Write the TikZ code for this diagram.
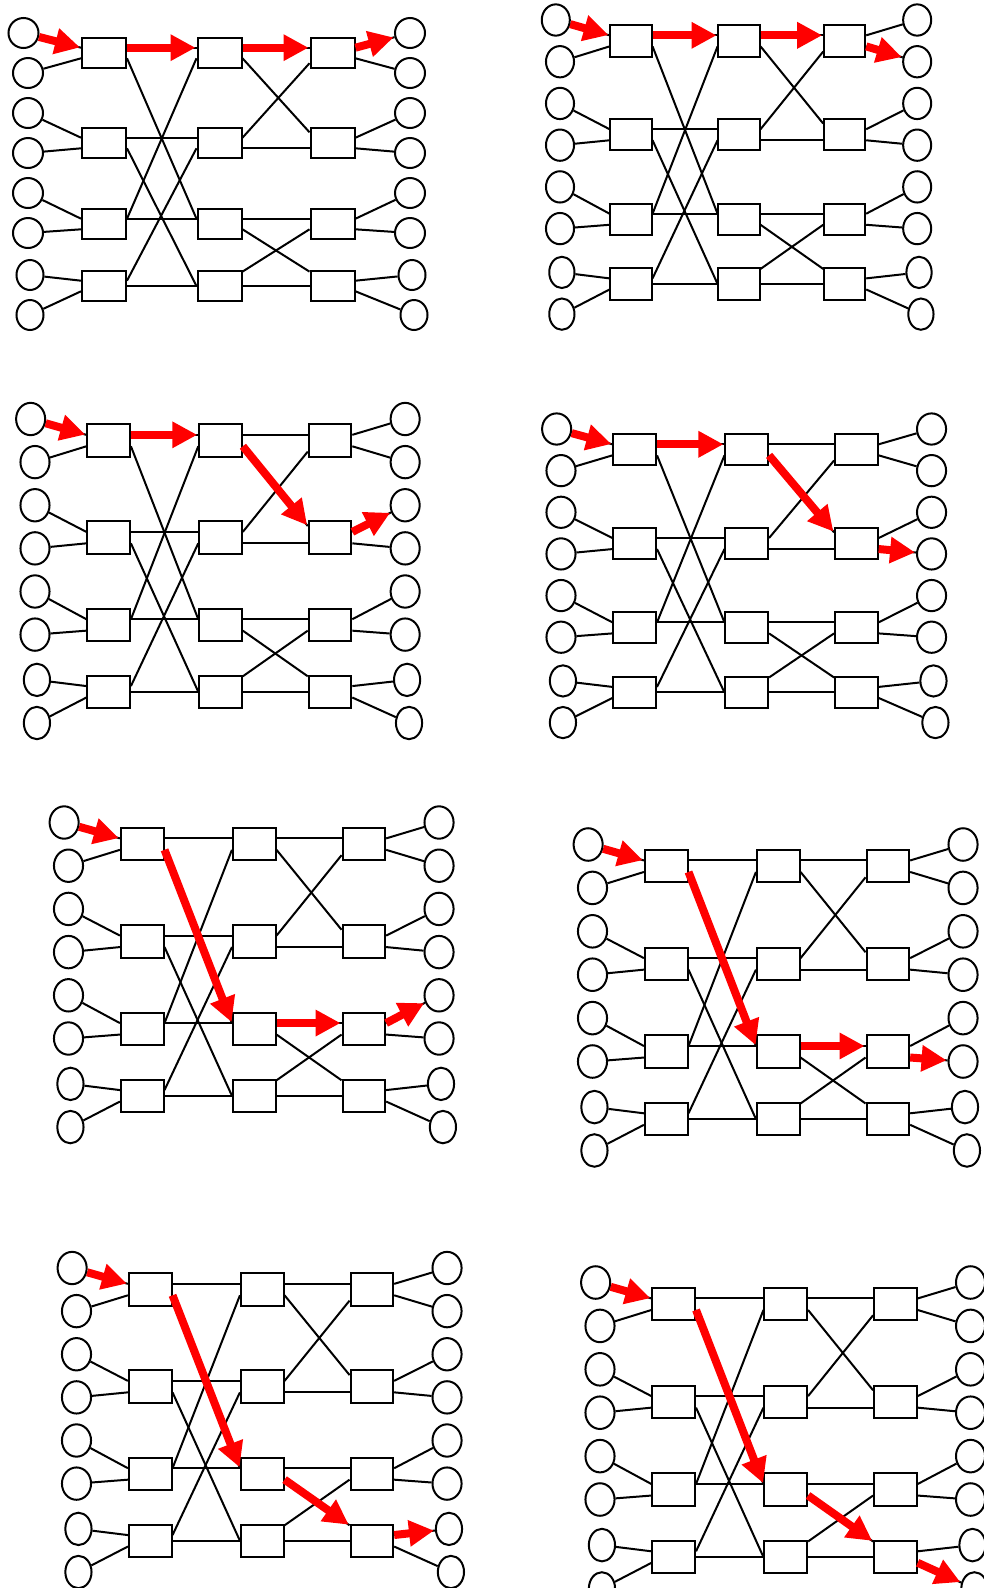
\documentclass[tikz,border=0pt]{standalone}
\usepackage{tikz}
\usetikzlibrary{shapes.geometric}
\usetikzlibrary{arrows.meta}

\tikzset{
    host/.style={draw, ellipse, line width=2pt, minimum width=30pt, minimum height=30pt, inner sep=0pt, transform shape},
    switchbox/.style={draw, rectangle, line width=2pt, minimum width=44pt, minimum height=30pt, inner sep=0pt, transform shape},
    link/.style={line width=2pt},
    route/.style={red, line width=8pt, -{Triangle[length=25pt,width=25pt]}, shorten >=1pt}
}

\begin{document}
\begin{tikzpicture}[x=1pt, y=-1pt]
    \useasboundingbox (0,0) rectangle (983,1588);

    % Eight copies of the network
    \foreach \n/\px/\py/\sx/\sy in {1/28/33/1.0/1.0, 2/560/20/0.935/1.043, 3/35/419/0.969/1.078, 4/561/429/0.970/1.041,
                                    5/68.5/822.5/0.970/1.08, 6/592.5/844.5/0.970/1.085, 7/76.5/1268/0.970/1.078, 8/600/1282.5/0.970/1.085} {
    \begin{scope}[shift={(\px,\py)}, xscale=\sx, yscale=\sy]
        % Hosts
        \foreach \k/\y/\dx/\ox/\w in {1/0/-4.5/0/30, 2/40/0/0/30, 3/80/0/0/30, 4/120/0/0/30,
                                      5/160/0/0/30, 6/200/0/0/30, 7/242/2/2/27, 8/282/2/4/27} {
            \node[host, minimum width=\w pt] (p\n-i\k) at (\dx,\y) {};
            \node[host, minimum width=\w pt] (p\n-o\k) at (382+\ox,\y) {};
        }
        % Switches
        \foreach \k/\y in {1/20, 2/110, 3/191, 4/253} {
            \node[switchbox] (p\n-s\k) at (76,\y) {};
            \node[switchbox] (p\n-m\k) at (191.5,\y) {};
            \node[switchbox] (p\n-t\k) at (304.5,\y) {};
        }
        % Hosts to switches
        \foreach \k/\a/\b in {1/1/2, 2/3/4, 3/5/6, 4/7/8} {
            \draw[link] (p\n-i\a) -- (p\n-s\k.167);
            \draw[link] (p\n-i\b) -- (p\n-s\k.193);
            \draw[link] (p\n-t\k.13) -- (p\n-o\a);
            \draw[link] (p\n-t\k.347) -- (p\n-o\b);
        }
        % First to second stage
        \draw[link] (p\n-s1.13) -- (p\n-m1.167);
        \draw[link] (p\n-s1.347) -- (p\n-m3.167);
        \draw[link] (p\n-s2.13) -- (p\n-m2.167);
        \draw[link] (p\n-s2.347) -- (p\n-m4.180);
        \draw[link] (p\n-s3.13) -- (p\n-m1.193);
        \draw[link] (p\n-s3.13) -- (p\n-m3.167);
        \draw[link] (p\n-s4.13) -- (p\n-m2.193);
        \draw[link] (p\n-s4.0) -- (p\n-m4.180);
        % Second to third stage
        \draw[link] (p\n-m1.13) -- (p\n-t1.167);
        \draw[link] (p\n-m1.347) -- (p\n-t2.155);
        \draw[link] (p\n-m2.13) -- (p\n-t1.204);
        \draw[link] (p\n-m2.347) -- (p\n-t2.193);
        \draw[link] (p\n-m3.13) -- (p\n-t3.167);
        \draw[link] (p\n-m3.347) -- (p\n-t4.148);
        \draw[link] (p\n-m4.32) -- (p\n-t3.193);
        \draw[link] (p\n-m4.0) -- (p\n-t4.180);
    \end{scope}
    }

    % Highlighted routes
    \foreach \n/\sa/\m/\ma/\t/\ta/\tb/\o in {1/13/m1/13/t1/167/13/o1, 2/13/m1/13/t1/167/347/o2,
                                            3/13/m1/347/t2/155/13/o3, 4/13/m1/347/t2/155/347/o4,
                                            5/347/m3/13/t3/167/13/o5, 6/347/m3/13/t3/167/347/o6,
                                            7/347/m3/347/t4/148/13/o7, 8/347/m3/347/t4/148/347/o8} {
        \draw[route] (p\n-i1) -- (p\n-s1.167);
        \draw[route] (p\n-s1.\sa) -- (p\n-\m.167);
        \draw[route] (p\n-\m.\ma) -- (p\n-\t.\ta);
        \draw[route] (p\n-\t.\tb) -- (p\n-\o);
    }
\end{tikzpicture}
\end{document}
